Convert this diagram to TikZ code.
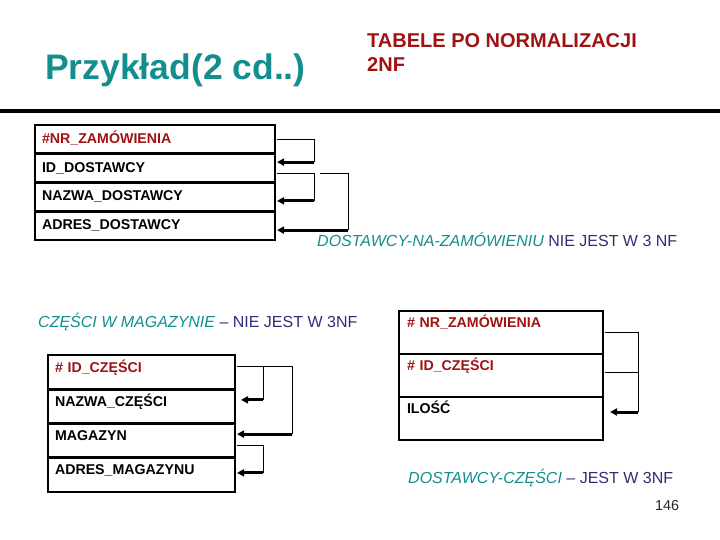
\documentclass[tikz,border=0pt]{standalone}
\usepackage{fontspec}
\setmainfont{Liberation Sans}
\usetikzlibrary{arrows.meta}
\definecolor{slteal}{RGB}{18,142,142}
\definecolor{slnavy}{RGB}{46,46,118}
\definecolor{slred}{RGB}{160,18,18}
\tikzset{
  attr/.style={draw, line width=2.8pt, anchor=north west, outer sep=0pt, inner ysep=0pt,
    inner xsep=7pt, align=left, font=\fontsize{14.2}{16}\selectfont\bfseries},
  attr1/.style={attr, text width=226pt, text height=18.5pt, text depth=10.25pt},
  attr2/.style={attr, text width=173pt, text height=17pt, text depth=17.25pt},
  attr3/.style={attr, inner xsep=8pt, text width=188pt, text height=16pt, text depth=27pt},
  link/.style={draw, line width=1pt},
  fd/.style={draw, line width=3pt, -{Triangle[length=7pt,width=7pt]}},
  note/.style={anchor=base west, inner sep=0pt, font=\fontsize{16}{18}\selectfont},
}

\begin{document}
\begin{tikzpicture}[x=1pt, y=-1pt]
      \useasboundingbox (0,0) rectangle (720,540);
      % heading
      \node[anchor=base west, inner sep=0pt, text=slteal, font=\fontsize{35.5}{40}\selectfont\bfseries]
        (title) at (45,80) {Przykład(2 cd..)};
      \node[anchor=north west, inner sep=0pt, align=left, text=slred, font=\fontsize{20}{24}\selectfont\bfseries]
        (subtitle) at (367,33) {TABELE PO NORMALIZACJI\\2NF};
      \draw[line width=4pt] (0,111) -- (720,111);

      % zamowienia
      \node[attr1, text=slred] (zam)     at (35,125)         {\#NR\_ZAMÓWIENIA};
      \node[attr1]             (iddost)  at (zam.south west)    {ID\_DOSTAWCY};
      \node[attr1]             (nazdost) at (iddost.south west) {NAZWA\_DOSTAWCY};
      \node[attr1]             (adrdost) at (nazdost.south west) {ADRES\_DOSTAWCY};
      \node[note] (fd1) at (317,246)
        {\textcolor{slteal}{\itshape DOSTAWCY-NA-ZAMÓWIENIU} \textcolor{slnavy}{NIE JEST W 3 NF}};

      % czesci w magazynie
      \node[note] (fd2) at (38,327)
        {\textcolor{slteal}{\itshape CZĘŚCI W MAGAZYNIE} \textcolor{slnavy}{– NIE JEST W 3NF}};
      \node[attr2, text=slred] (idcz)    at (48,355)         {\# ID\_CZĘŚCI};
      \node[attr2]             (nazcz)   at (idcz.south west)   {NAZWA\_CZĘŚCI};
      \node[attr2]             (magazyn) at (nazcz.south west)  {MAGAZYN};
      \node[attr2]             (adrmag)  at (magazyn.south west) {ADRES\_MAGAZYNU};

      % dostawcy-czesci
      \node[attr3, text=slred] (nrzam)  at (399,311)         {\# NR\_ZAMÓWIENIA};
      \node[attr3, text=slred] (idcz2)  at (nrzam.south west) {\# ID\_CZĘŚCI};
      \node[attr3]             (ilosc)  at (idcz2.south west) {ILOŚĆ};
      \node[note] (fd3) at (408,483)
        {\textcolor{slteal}{\itshape DOSTAWCY-CZĘŚCI} \textcolor{slnavy}{– JEST W 3NF}};
      \node[anchor=base west, inner sep=0pt, text=black!85, font=\fontsize{14.4}{16}\selectfont]
        (pageno) at (655,510) {146};

      % zaleznosci, tabela 1
      \draw[link] ([xshift=2pt]zam.east) -| ([xshift=39pt,yshift=6pt]iddost.east);
      \draw[fd] ([xshift=39pt,yshift=6pt]iddost.east) -- ([xshift=2pt,yshift=6pt]iddost.east);
      \draw[link] ([xshift=2pt,yshift=-5pt]iddost.east) -| ([xshift=39pt,yshift=-4pt]nazdost.east);
      \draw[fd] ([xshift=39pt,yshift=-4pt]nazdost.east) -- ([xshift=2pt,yshift=-4pt]nazdost.east);
      \draw[link] ([xshift=45pt,yshift=-5pt]iddost.east) -| ([xshift=73pt,yshift=-4.5pt]adrdost.east);
      \draw[fd] ([xshift=73pt,yshift=-4.5pt]adrdost.east) -- ([xshift=2pt,yshift=-4.5pt]adrdost.east);

      % zaleznosci, tabela 2
      \draw[link] ([xshift=2pt,yshift=6pt]idcz.east) -| ([xshift=57pt,yshift=6.5pt]magazyn.east);
      \draw[fd] ([xshift=57pt,yshift=6.5pt]magazyn.east) -- ([xshift=2pt,yshift=6.5pt]magazyn.east);
      \draw[link] ([xshift=28pt,yshift=6pt]idcz.east) -- ([xshift=28pt,yshift=6.5pt]nazcz.east);
      \draw[fd] ([xshift=28pt,yshift=6.5pt]nazcz.east) -- ([xshift=6pt,yshift=6.5pt]nazcz.east);
      \draw[link] ([xshift=2pt,yshift=-4.5pt]magazyn.east) -| ([xshift=28pt,yshift=2pt]adrmag.east);
      \draw[fd] ([xshift=28pt,yshift=2pt]adrmag.east) -- ([xshift=2pt,yshift=2pt]adrmag.east);

      % zaleznosci, tabela 3
      \draw[link] ([xshift=2pt,yshift=0.5pt]nrzam.east) -| ([xshift=35pt,yshift=6.5pt]ilosc.east);
      \draw[link] ([xshift=2pt,yshift=3.5pt]idcz2.east) -- ([xshift=35pt,yshift=3.5pt]idcz2.east);
      \draw[fd] ([xshift=35pt,yshift=6.5pt]ilosc.east) -- ([xshift=7pt,yshift=6.5pt]ilosc.east);
\end{tikzpicture}
\end{document}
